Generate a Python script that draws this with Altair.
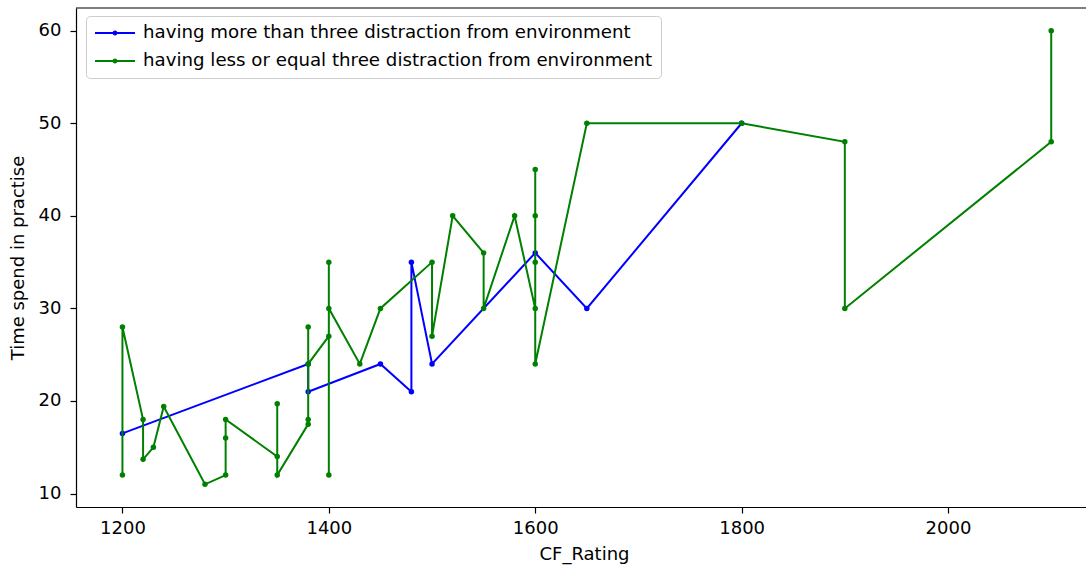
import altair as alt
import pandas as pd

# Series labels and colours
more_label = "having more than three distraction from environment"
less_label = "having less or equal three distraction from environment"
series_names = [more_label, less_label]
series_colors = ["#0000ff", "#008000"]

# Practice time vs. CF rating, in recorded order (ties kept as they appear)
more_cf = [1200, 1380, 1380, 1450, 1480, 1480, 1500, 1600, 1650, 1800]
more_time = [16.5, 24, 21, 24, 21, 35, 24, 36, 30, 50]

less_cf = [1200, 1200, 1220, 1220, 1230, 1240, 1280, 1300, 1300, 1300,
           1350, 1350, 1350, 1380, 1380, 1380, 1380, 1400, 1400, 1400,
           1400, 1430, 1450, 1500, 1500, 1520, 1550, 1550, 1580, 1600,
           1600, 1600, 1600, 1600, 1650, 1800, 1900, 1900, 2100, 2100]
less_time = [12, 28, 18, 13.7, 15, 19.4, 11, 12, 16, 18,
             14, 19.7, 12, 17.5, 18, 28, 24, 27, 35, 12,
             30, 24, 30, 35, 27, 40, 36, 30, 40, 30,
             45, 40, 35, 24, 50, 50, 48, 30, 48, 60]

x_ticks = [1200, 1400, 1600, 1800, 2000]
y_ticks = [10, 20, 30, 40, 50, 60]


def frame(cf, time, name):
    return pd.DataFrame({"CF_Rating": cf, "Time": time, "series": name,
                         "step": list(range(len(cf)))})


more_df = frame(more_cf, more_time, more_label)
less_df = frame(less_cf, less_time, less_label)

W, H = 1010, 499
FONT = "DejaVu Sans"

x_scale = alt.Scale(domain=[1155, 2133.7], nice=False, zero=False)
y_scale = alt.Scale(domain=[8.55, 62.45], nice=False, zero=False)
color_scale = alt.Scale(domain=series_names, range=series_colors)

x_axis = alt.Axis(values=x_ticks, format="d", title="CF_Rating", grid=False,
                  tickSize=6, tickWidth=1.2, tickColor="black",
                  domainColor="black", domainWidth=1.2,
                  labelPadding=6, labelFont=FONT, labelFontSize=18,
                  labelColor="black", labelFlush=False,
                  titleFont=FONT, titleFontSize=18, titleFontWeight="normal",
                  titleColor="black", titleX=508, titleY=52,
                  titleBaseline="alphabetic", titleAlign="center")

y_axis = alt.Axis(values=y_ticks, format="d", title="Time spend in practise",
                  grid=False, tickSize=6, tickWidth=1.2, tickColor="black",
                  domainColor="black", domainWidth=1.2,
                  labelPadding=9, labelFont=FONT, labelFontSize=18,
                  labelColor="black", labelFlush=False,
                  titleFont=FONT, titleFontSize=18, titleFontWeight="normal",
                  titleColor="black", titleAngle=270, titleX=-58, titleY=249.5,
                  titleBaseline="middle", titleAlign="center")

# Line-with-dot legend glyph
glyph = ("M-1,0L1,0M-0.075,0A0.075,0.075,0,1,0,0.075,0"
         "A0.075,0.075,0,1,0,-0.075,0Z")

legend = alt.Legend(title=None, orient="none", legendX=10, legendY=8,
                    padding=8, fillColor="white", strokeColor="#cccccc",
                    cornerRadius=4, labelFont=FONT, labelFontSize=18.2,
                    labelColor="black", labelOffset=7, rowPadding=9,
                    clipHeight=18, labelLimit=800,
                    symbolType=glyph, symbolSize=1600, symbolStrokeWidth=2)


def series_chart(df):
    return alt.Chart(df).mark_line(
        strokeWidth=2,
        point=alt.OverlayMarkDef(filled=True, size=30, opacity=1),
    ).encode(
        x=alt.X("CF_Rating:Q", scale=x_scale, axis=x_axis),
        y=alt.Y("Time:Q", scale=y_scale, axis=y_axis),
        color=alt.Color("series:N", scale=color_scale, legend=legend),
        order=alt.Order("step:Q"),
    )


# Upper frame line of the plot area
top_frame = alt.Chart(pd.DataFrame({"k": [0]})).mark_rule(
    color="black", strokeWidth=1.2
).encode(x=alt.value(0), x2=alt.value(W), y=alt.value(0))

chart = alt.layer(
    series_chart(more_df), series_chart(less_df), top_frame
).properties(
    width=W, height=H,
    autosize=alt.AutoSizeParams(type="none"),
    padding={"left": 76, "top": 8, "right": 0, "bottom": 60},
    background="white",
).configure_view(stroke=None)

chart.save("out.html", embed_options={"renderer": "svg", "actions": False})
